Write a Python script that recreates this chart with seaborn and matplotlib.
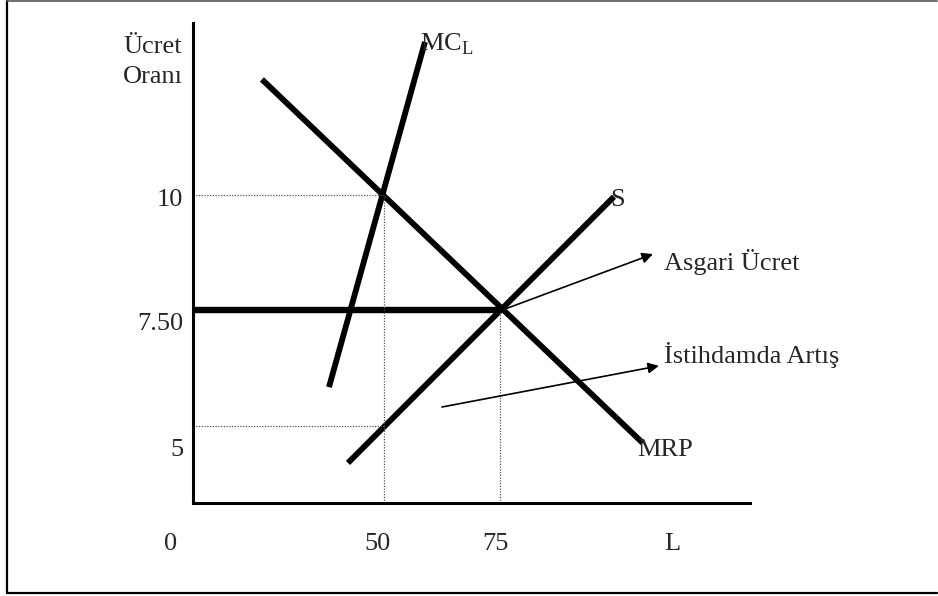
import matplotlib
matplotlib.use("Agg")
import matplotlib.pyplot as plt
import seaborn as sns
import pandas as pd
from matplotlib.lines import Line2D

# Curve end points (L, wage)
mrp_L = [23.7, 105.8]
mrp_W = [12.5, 4.63]
mcl_L = [38.15, 58.84]
mcl_W = [5.84, 13.31]
s_L = [42.24, 99.57]
s_W = [4.2, 9.96]

min_wage = 7.5
L_mc = 50      # employment where MRP = MC_L (no min wage)
W_mc = 10      # wage at that point
L_min = 75     # employment with min wage
W_supply50 = 5 # supply wage at L = 50

x_lim = (8.84, 128.9)
y_lim = (3.333, 13.72)

# arrows: (start L, start W, end L, end W)
arrow_asgari = (75, 7.49, 107.97, 8.72)
arrow_istihdam = (62.5, 5.41, 109.27, 6.3)

y_tick_vals = [10, 7.5, 5]
y_tick_labels = ["10", "7.50", "5"]
x_tick_vals = [50, 75]
x_tick_labels = ["50", "75"]

sns.set_theme(style="white")
plt.rcParams["font.family"] = ["Liberation Serif", "DejaVu Serif"]
plt.rcParams["mathtext.fontset"] = "custom"
plt.rcParams["mathtext.rm"] = "Liberation Serif"

fig = plt.figure(figsize=(9.38, 5.96), dpi=100)
ax = fig.add_axes([193 / 938, 1 - 503 / 596, (750 - 193) / 938, (503 - 23) / 596])

fs = 19
thick = 4.2
for xs, ys in [(mrp_L, mrp_W), (mcl_L, mcl_W), (s_L, s_W)]:
    df = pd.DataFrame({"L": xs, "W": ys})
    sns.lineplot(data=df, x="L", y="W", ax=ax, color="black", lw=thick,
                 sort=False, estimator=None, solid_capstyle="butt")

# minimum wage line
df_min = pd.DataFrame({"L": [x_lim[0], L_min], "W": [min_wage, min_wage]})
sns.lineplot(data=df_min, x="L", y="W", ax=ax, color="black", lw=4.6,
             estimator=None, solid_capstyle="butt")

# dotted guide lines
dot = dict(color="#555555", lw=0.9, linestyle=(0, (1, 1.2)))
ax.plot([x_lim[0], L_mc], [W_mc, W_mc], **dot)
ax.plot([L_mc, L_mc], [y_lim[0], W_mc], **dot)
ax.plot([x_lim[0], L_mc], [W_supply50, W_supply50], **dot)
ax.plot([L_min, L_min], [y_lim[0], min_wage], **dot)

# arrows
for x0, y0, x1, y1 in [arrow_asgari, arrow_istihdam]:
    ax.annotate("", xy=(x1, y1), xytext=(x0, y0),
                arrowprops=dict(arrowstyle="-|>", mutation_scale=16, lw=1.2,
                                color="black", shrinkA=0, shrinkB=0))

ax.set_xlim(*x_lim)
ax.set_ylim(*y_lim)
ax.set_xticks([])
ax.set_yticks([])
ax.set_xlabel("")
ax.set_ylabel("")
for side in ["top", "right"]:
    ax.spines[side].set_visible(False)
for side in ["left", "bottom"]:
    ax.spines[side].set_color("black")
    ax.spines[side].set_linewidth(2.2)

# labels on the curves
ax.text(57.76, 13.25, r"MC$_{\mathrm{L}}$", fontsize=fs, va="center", ha="left")
ax.text(98.7, 9.89, "S", fontsize=fs, va="center", ha="left")
ax.text(104.5, 4.48, "MRP", fontsize=fs, va="center", ha="left")
ax.text(110.3, 8.55, "Asgari Ücret", fontsize=fs, va="center", ha="left")
ax.text(110.3, 6.54, "İstihdamda Artış", fontsize=fs, va="center", ha="left")

# axis titles
ax.text(-6.25, 13.2, "Ücret", fontsize=fs, va="center", ha="left")
ax.text(-6.25, 12.55, "Oranı", fontsize=fs, va="center", ha="left")
label_row = 2.45
ax.text(112.1, label_row, "L", fontsize=fs, va="center", ha="center")

# hand-placed tick labels (sit a little below their guide lines)
y_offsets = [-0.1, -0.29, -0.52]
for v, lab, off in zip(y_tick_vals, y_tick_labels, y_offsets):
    ax.text(6.7, v + off, lab, fontsize=fs, va="center", ha="right")
x_offsets = [-1.3, -1.0]
for v, lab, off in zip(x_tick_vals, x_tick_labels, x_offsets):
    ax.text(v + off, label_row, lab, fontsize=fs, va="center", ha="center")
ax.text(4.1, label_row, "0", fontsize=fs, va="center", ha="center")

# outer frame
fig.add_artist(Line2D([6.5 / 938, 6.5 / 938], [0.005, 0.999], color="black", lw=1.6))
fig.add_artist(Line2D([6.5 / 938, 0.999], [0.005, 0.005], color="black", lw=1.6))
fig.add_artist(Line2D([6.5 / 938, 0.999], [0.999, 0.999], color="#555555", lw=1.2))

fig.savefig("out.png", dpi=100)
